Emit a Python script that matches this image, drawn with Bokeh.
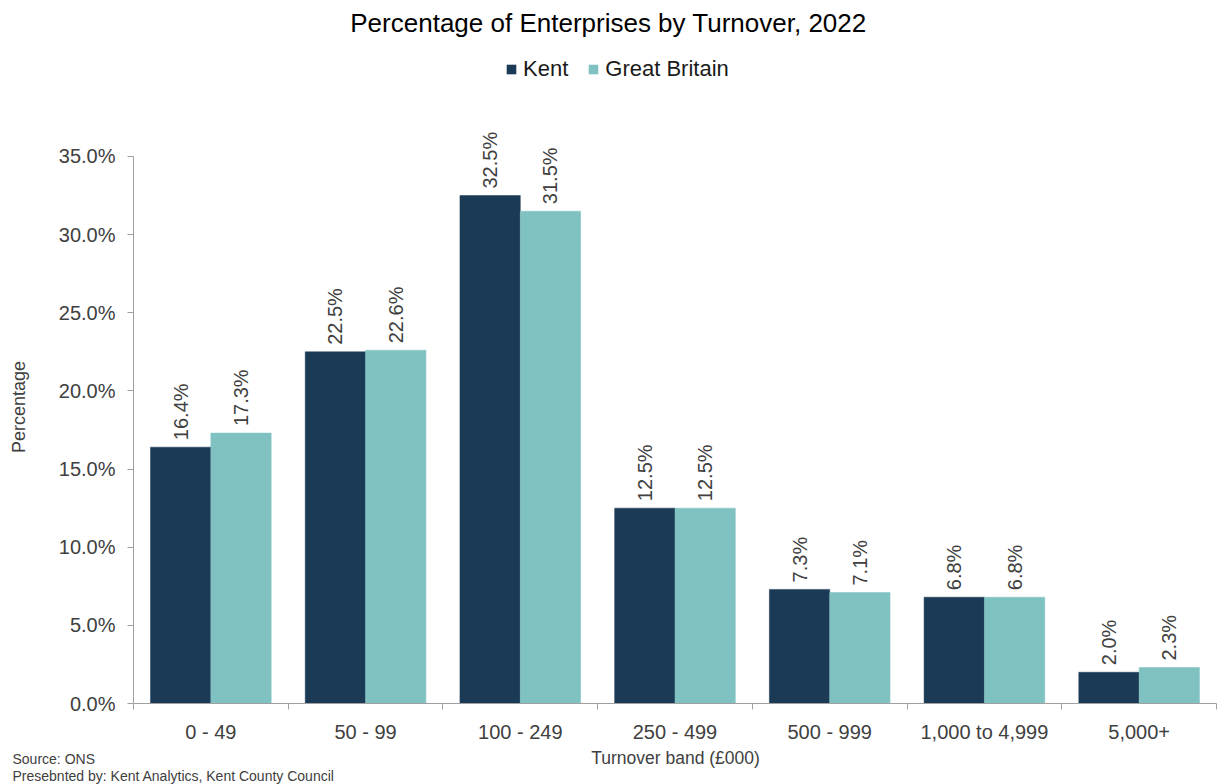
import numpy as np
from bokeh.plotting import figure
from bokeh.models import (Range1d, FixedTicker, PrintfTickFormatter, Label, Legend,
                          LegendItem, ColumnDataSource)
from bokeh.core.properties import value
from bokeh.embed import file_html
from bokeh.resources import INLINE

categories = ["0 - 49", "50 - 99", "100 - 249", "250 - 499", "500 - 999", "1,000 to 4,999", "5,000+"]
kent = [16.4, 22.5, 32.5, 12.5, 7.3, 6.8, 2.0]
gb = [17.3, 22.6, 31.5, 12.5, 7.1, 6.8, 2.3]
y_ticks = [0, 5, 10, 15, 20, 25, 30, 35]

FONT = "Liberation Sans"
KENT_C = "#1b3a56"
GB_C = "#80c2c1"
TXT = "#404040"
AX = "#a0a0a0"

n = len(categories)
centers = np.arange(n) + 0.5
bw = 0.39

src_k = ColumnDataSource(dict(x=centers - bw / 2, y=kent, lab=[f"{v:.1f}%" for v in kent]))
src_g = ColumnDataSource(dict(x=centers + bw / 2, y=gb, lab=[f"{v:.1f}%" for v in gb]))


def blank(h):
    f = figure(width=1217, height=h, output_backend="svg", toolbar_location=None, title=None,
               x_range=Range1d(0, 1217), y_range=Range1d(h, 0),
               x_axis_type=None, y_axis_type=None,
               min_border_left=0, min_border_right=0, min_border_top=0, min_border_bottom=0)
    f.outline_line_color = None
    f.xgrid.visible = False
    f.ygrid.visible = False
    return f


# ---- header strip: title and legend
top = blank(110)
top.add_layout(Label(x=608, y=22, text="Percentage of Enterprises by Turnover, 2022",
                     text_align="center", text_baseline="middle", text_font=FONT,
                     text_font_size="26px", text_color="#000000"))
# zero-width proxies of the two bar series, only used for the legend swatches
lk = top.vbar(x="x", top="y", width=0, source=src_k, fill_color=KENT_C, line_color=None)
lg = top.vbar(x="x", top="y", width=0, source=src_g, fill_color=GB_C, line_color=None)
legend = Legend(items=[LegendItem(label="Kent", renderers=[lk]),
                       LegendItem(label="Great Britain", renderers=[lg])],
                orientation="horizontal", location=(505, 28), padding=0, margin=0,
                spacing=19, label_standoff=6, glyph_width=12, glyph_height=12,
                label_height=24, border_line_color=None, background_fill_alpha=0,
                label_text_font=FONT, label_text_font_size="22px", label_text_color="#1a1a1a")
top.add_layout(legend, "center")

# ---- chart
p = figure(width=1217, height=635, output_backend="svg", toolbar_location=None, title=None,
           x_range=Range1d(0, n), y_range=Range1d(0, 37.94),
           min_border_left=133, min_border_right=1, min_border_top=0, min_border_bottom=41)
p.outline_line_color = None
p.xgrid.visible = False
p.ygrid.visible = False

p.vbar(x="x", top="y", width=bw, source=src_k, fill_color=KENT_C, line_color=KENT_C, line_width=0.5)
p.vbar(x="x", top="y", width=bw, source=src_g, fill_color=GB_C, line_color=GB_C, line_width=0.5)

for s in (src_k, src_g):
    p.text(x="x", y="y", text="lab", source=s, angle=np.pi / 2, text_align="left",
           text_baseline="middle", y_offset=-7, text_font=value(FONT), text_font_size="20px",
           text_color=TXT)

xa = p.xaxis[0]
xa.ticker = FixedTicker(ticks=list(centers), minor_ticks=list(range(n + 1)))
xa.major_label_overrides = {float(c): lab for c, lab in zip(centers, categories)}
xa.major_tick_out = 0
xa.major_tick_in = 0
xa.minor_tick_out = 6
xa.minor_tick_in = 0
xa.minor_tick_line_color = AX
xa.axis_line_color = AX
xa.major_label_standoff = 11
xa.major_label_text_font = FONT
xa.major_label_text_font_size = "20px"
xa.major_label_text_color = TXT

ya = p.yaxis[0]
ya.bounds = (0, 35)
ya.ticker = FixedTicker(ticks=y_ticks, minor_ticks=[])
ya.formatter = PrintfTickFormatter(format="%.1f%%")
ya.major_tick_out = 6
ya.major_tick_in = 0
ya.major_tick_line_color = AX
ya.axis_line_color = AX
ya.major_label_standoff = 12
ya.major_label_text_font = FONT
ya.major_label_text_font_size = "20px"
ya.major_label_text_color = TXT
ya.axis_label = "Percentage"
ya.axis_label_text_font = FONT
ya.axis_label_text_font_size = "18px"
ya.axis_label_text_font_style = "normal"
ya.axis_label_text_color = TXT
ya.axis_label_standoff = 27

# ---- footer strip: x axis title and source notes
q = blank(39)
q.add_layout(Label(x=675, y=12, text="Turnover band (£000)", text_align="center",
                   text_baseline="middle", text_font=FONT, text_font_size="17.5px",
                   text_color=TXT))
q.add_layout(Label(x=12, y=13, text="Source: ONS", text_align="left",
                   text_baseline="middle", text_font=FONT, text_font_size="14px",
                   text_color=TXT))
q.add_layout(Label(x=12, y=30, text="Presebnted by: Kent Analytics, Kent County Council",
                   text_align="left", text_baseline="middle", text_font=FONT,
                   text_font_size="14px", text_color=TXT))

open("out.html", "w").write(file_html([top, p, q], INLINE))
